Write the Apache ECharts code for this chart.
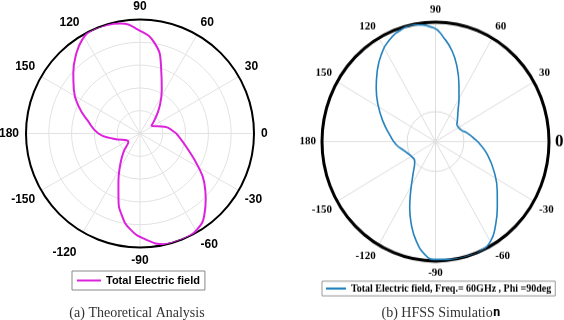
<!DOCTYPE html>
<html>
<head>
<meta charset="utf-8">
<script src="https://cdn.jsdelivr.net/npm/echarts@6/dist/echarts.min.js"></script>
<style>
  html, body { margin: 0; padding: 0; background: #fff; }
  #wrap { position: relative; width: 564px; height: 320px; }
  #left { position: absolute; left: 0; top: 0; width: 564px; height: 320px; }
  /* the HFSS plot in the figure is a bit taller than wide */
  #right { position: absolute; left: 282px; top: 0; width: 282px; height: 304px;
           transform: scaleY(1.053); transform-origin: 0 0; }
</style>
</head>
<body>
<div id="wrap">
  <div id="left"></div>
  <div id="right"></div>
</div>
<script>
// angle tick labels, every 30 degrees counter-clockwise from the right
const angleLabels = ['0', '30', '60', '90', '120', '150', '180', '-150', '-120', '-90', '-60', '-30']

// (a) theoretical pattern, angle in degrees and normalised field
const theoryAngles = [34, 42.9, 54, 63.5, 72.6, 80.9, 91.1, 100.2, 107, 114.7, 121.6, 129.8, 137.8, 146.6,
  156.3, 165.6, 180, -168.8, -143.7, -131.7, -121.9, -113.9, -108.2, -102.4, -95.9, -87.3, -77.5,
  -70.9, -65.4, -59, -52, -44.9, -37.2, -29, -17.8, -2.3, 2.5, 15.6, 34]
const theoryField = [0.118, 0.175, 0.292, 0.428, 0.617, 0.805, 0.912, 0.98, 0.995, 1.0, 0.967, 0.882, 0.79, 0.695,
  0.586, 0.478, 0.365, 0.237, 0.126, 0.218, 0.33, 0.467, 0.604, 0.738, 0.843, 0.928, 0.994,
  1.0, 1.0, 0.979, 0.915, 0.814, 0.707, 0.577, 0.438, 0.33, 0.302, 0.223, 0.118]

// (b) HFSS simulation
const hfssAngles = [37, 41.4, 51.9, 60.4, 66.5, 72.7, 78.9, 85, 90.8, 100.6, 107.8, 115.4, 123.4, 131.2,
  139.4, 148.7, 159.9, 172, -175.5, -163.7, -145.5, -138.3, -125.9, -117.8, -112.3, -107.1, -101.5,
  -95.7, -90.8, -80.7, -72.5, -66.9, -59.7, -52.6, -45.5, -37.3, -25.6, -13.2, -1.9, 2.4, 14.2, 24, 37]
const hfssField = [0.234, 0.256, 0.321, 0.419, 0.518, 0.644, 0.769, 0.869, 0.95, 0.994, 0.983, 0.943, 0.869, 0.78,
  0.688, 0.593, 0.493, 0.408, 0.346, 0.283, 0.24, 0.245, 0.338, 0.468, 0.599, 0.725, 0.85,
  0.949, 0.987, 1.0, 1.0, 1.0, 0.964, 0.873, 0.777, 0.684, 0.571, 0.469, 0.383, 0.354, 0.289, 0.243, 0.234]

const theoryName = 'Total Electric field'
const hfssName = 'Total Electric field, Freq.= 60GHz , Phi =90deg'
const captions = ['(a) Theoretical Analysis', '(b) HFSS Simulatio', 'n']

// angle axis runs 0..360, negative angles are folded in
const toAxis = a => (a < 0 ? a + 360 : a)
const toPoints = (angles, field) => angles.map((a, i) => [field[i], toAxis(a)])
const tickLabel = v => angleLabels[Math.round(v / 30) % 12]

// ---------- left chart (theory) + captions ----------
const leftChart = echarts.init(document.getElementById('left'))
const sans = 'Liberation Sans, Arial, sans-serif'
leftChart.setOption({
  animation: false,
  polar: { center: [140, 133.5], radius: 114 },
  angleAxis: {
    type: 'value',
    min: 0,
    max: 360,
    interval: 30,
    startAngle: 0,
    clockwise: false,
    axisLine: { lineStyle: { color: '#000', width: 2 } },
    axisTick: { show: false },
    axisLabel: {
      margin: 7,
      color: '#000',
      fontFamily: sans,
      fontWeight: 'bold',
      fontSize: 12,
      formatter: v => {
        const t = tickLabel(v)
        return t === '-120' ? '{w|' + t + '}' : t
      },
      rich: {
        w: { backgroundColor: '#fff', padding: [8, 3, 2, 3], color: '#000',
             fontFamily: sans, fontWeight: 'bold', fontSize: 12 }
      }
    },
    splitLine: { lineStyle: { color: '#e2e2e2', width: 1 } }
  },
  radiusAxis: {
    min: 0,
    max: 1,
    interval: 0.2,
    axisLine: { show: false },
    axisTick: { show: false },
    axisLabel: { show: false },
    splitLine: { lineStyle: { color: '#e2e2e2', width: 1 } }
  },
  legend: {
    left: 72,
    top: 271,
    padding: [4, 5],
    icon: 'rect',
    itemWidth: 24,
    itemHeight: 2,
    borderColor: '#888',
    borderWidth: 1,
    backgroundColor: '#fff',
    textStyle: { fontFamily: sans, fontWeight: 'bold', fontSize: 11, color: '#000' },
    data: [theoryName]
  },
  graphic: [
    {
      type: 'text', x: 137, y: 306,
      style: { text: captions[0], fill: '#333',
               font: '14px "Liberation Serif", serif', textAlign: 'center' }
    },
    {
      type: 'text', x: 441, y: 306,
      style: {
        text: '{a|' + captions[1] + '}{b|' + captions[2] + '}',
        textAlign: 'center',
        rich: {
          a: { fontFamily: 'Liberation Serif', fontSize: 14, fill: '#333' },
          b: { fontFamily: 'DejaVu Sans Mono', fontWeight: 'bold', fontSize: 13, fill: '#000' }
        }
      }
    }
  ],
  series: [{
    name: theoryName,
    type: 'line',
    coordinateSystem: 'polar',
    symbol: 'none',
    smooth: 0.5,
    lineStyle: { color: '#dd22dd', width: 2 },
    itemStyle: { color: '#dd22dd' },
    data: toPoints(theoryAngles, theoryField)
  }]
})

// ---------- right chart (HFSS) ----------
const rightChart = echarts.init(document.getElementById('right'))
const serif = 'Liberation Serif, Times New Roman, serif'
rightChart.setOption({
  animation: false,
  polar: { center: [153.5, 134.4], radius: 113.5 },
  angleAxis: {
    type: 'value',
    min: 0,
    max: 360,
    interval: 30,
    startAngle: 0,
    clockwise: false,
    axisLine: { lineStyle: { color: '#000', width: 3 } },
    axisTick: { show: false },
    axisLabel: {
      margin: 6,
      color: '#000',
      fontFamily: serif,
      fontWeight: 'bold',
      fontSize: 11,
      formatter: v => {
        const t = tickLabel(v)
        return t === '0' ? '{big|0}' : t
      },
      rich: {
        big: { fontFamily: serif, fontWeight: 'bold', fontSize: 17, color: '#000' }
      }
    },
    splitLine: { lineStyle: { color: '#dedede', width: 1 } }
  },
  radiusAxis: {
    min: 0,
    max: 1,
    interval: 0.25,
    axisLine: { show: false },
    axisTick: { show: false },
    axisLabel: { show: false },
    // only the innermost ring is drawn
    splitLine: { lineStyle: { color: ['rgba(0,0,0,0)', '#dcdcdc', 'rgba(0,0,0,0)', 'rgba(0,0,0,0)', 'rgba(0,0,0,0)'], width: 1 } }
  },
  legend: {
    left: 40,
    top: 267,
    padding: [2, 4],
    icon: 'rect',
    itemWidth: 20,
    itemHeight: 2,
    itemGap: 2,
    borderColor: '#999',
    borderWidth: 1,
    backgroundColor: '#fff',
    textStyle: { fontFamily: serif, fontWeight: 'bold', fontSize: 10, color: '#000' },
    data: [hfssName]
  },
  series: [{
    name: hfssName,
    type: 'line',
    coordinateSystem: 'polar',
    symbol: 'none',
    smooth: 0.5,
    lineStyle: { color: '#2381bd', width: 1.6 },
    itemStyle: { color: '#2381bd' },
    data: toPoints(hfssAngles, hfssField)
  }]
})
</script>
</body>
</html>
